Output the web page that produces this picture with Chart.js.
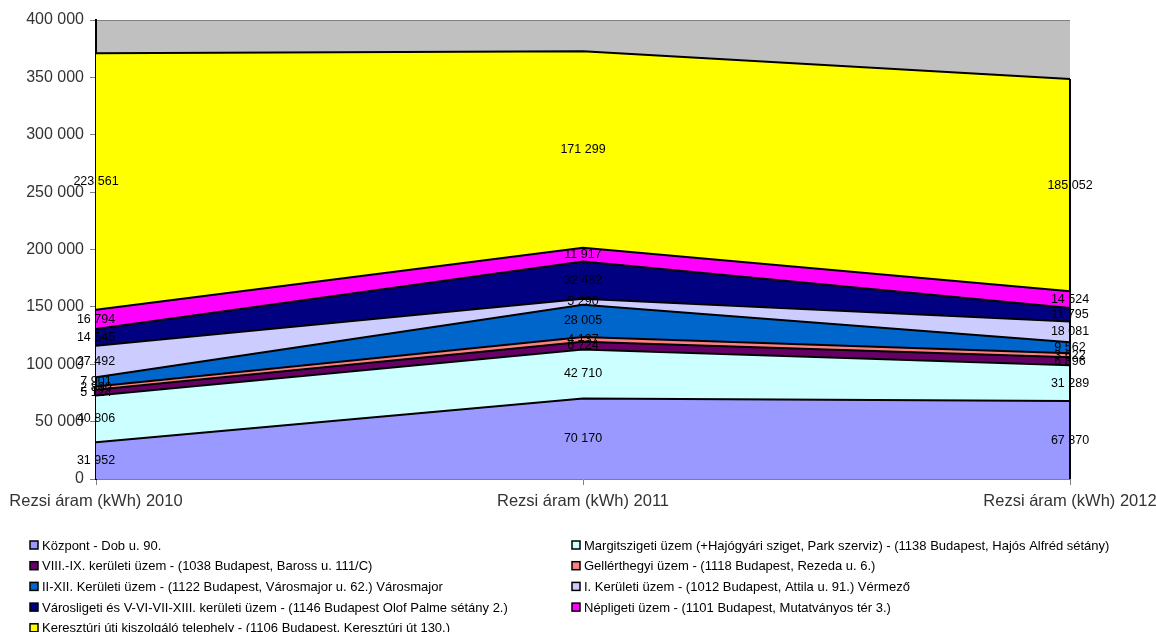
<!DOCTYPE html>
<html>
<head>
<meta charset="utf-8">
<script src="https://cdn.jsdelivr.net/npm/chart.js@4/dist/chart.umd.min.js"></script>
<style>
  body { margin: 0; background: #fff; }
  #wrap { width: 1156px; height: 632px; position: relative; }
</style>
</head>
<body>
<div id="wrap"><canvas id="grafikon" width="1156" height="632"></canvas></div>
<script>
// kategóriák és sorozatok
const kategoriak = ['Rezsi áram (kWh) 2010', 'Rezsi áram (kWh) 2011', 'Rezsi áram (kWh) 2012'];

const nevek = [
    'Központ - Dob u. 90.',
    'Margitszigeti üzem (+Hajógyári sziget, Park szerviz) - (1138 Budapest, Hajós Alfréd sétány)',
    'VIII.-IX. kerületi üzem - (1038 Budapest, Baross u. 111/C)',
    'Gellérthegyi üzem - (1118 Budapest, Rezeda u. 6.)',
    'II-XII. Kerületi üzem - (1122 Budapest, Városmajor u. 62.) Városmajor',
    'I. Kerületi üzem - (1012 Budapest, Attila u. 91.) Vérmező',
    'Városligeti és V-VI-VII-XIII. kerületi üzem - (1146 Budapest Olof Palme sétány 2.)',
    'Népligeti üzem - (1101 Budapest, Mutatványos tér 3.)',
    'Keresztúri úti kiszolgáló telephely - (1106 Budapest, Keresztúri út 130.)'
];

const kozpont     = [31952, 70170, 67870];
const margitsziget = [40806, 42710, 31289];
const nyolcKilenc = [5124, 6724, 6896];
const gellerthegy = [2800, 4137, 3622];
const ketTizenketto = [7901, 28005, 9562];
const elsoKerulet = [27492, 5290, 18081];
const varosliget  = [14545, 32482, 11795];
const nepliget    = [16794, 11917, 14524];
const keresztur   = [223561, 171299, 185052];

const yMin = 0, yMax = 400000, yLepes = 50000;

const szinek = ['#9999FF', '#CCFFFF', '#660066', '#FF8080', '#0066CC', '#CCCCFF', '#000080', '#FF00FF', '#FFFF00'];
const sorok = [kozpont, margitsziget, nyolcKilenc, gellerthegy, ketTizenketto, elsoKerulet, varosliget, nepliget, keresztur];

const betu = '"Liberation Sans", Arial, sans-serif';
const szamFormat = v => String(v).replace(/\B(?=(\d{3})+(?!\d))/g, ' ');

// szürke rajzterület háttér
const hatter = {
    id: 'hatter',
    beforeDraw(chart) {
        const { ctx, chartArea: a } = chart;
        ctx.save();
        ctx.fillStyle = '#C0C0C0';
        ctx.fillRect(a.left, a.top, a.right - a.left, a.bottom - a.top);
        ctx.strokeStyle = '#808080';
        ctx.lineWidth = 1;
        ctx.beginPath();
        ctx.moveTo(a.left, a.top + 0.5);
        ctx.lineTo(a.right, a.top + 0.5);
        ctx.stroke();
        ctx.restore();
    }
};

// értékcímkék a sávok közepén + jobb oldali él
const cimkek = {
    id: 'cimkek',
    afterDatasetsDraw(chart) {
        const ctx = chart.ctx;
        const ys = chart.scales.y, xs = chart.scales.x;
        const n = chart.data.datasets.length;
        ctx.save();
        // jobb oldali függőleges él
        const utolso = chart.getDatasetMeta(n - 1).data;
        const xj = xs.getPixelForValue(kategoriak.length - 1);
        ctx.strokeStyle = '#000';
        ctx.lineWidth = 2;
        ctx.beginPath();
        ctx.moveTo(xj, ys.getPixelForValue(0));
        ctx.lineTo(xj, utolso[utolso.length - 1].y);
        ctx.stroke();

        ctx.font = '12.5px ' + betu;
        ctx.fillStyle = '#000';
        ctx.textAlign = 'center';
        ctx.textBaseline = 'middle';
        chart.data.datasets.forEach((ds, i) => {
            const meta = chart.getDatasetMeta(i);
            const elozo = i > 0 ? chart.getDatasetMeta(i - 1) : null;
            meta.data.forEach((pt, j) => {
                const also = elozo ? elozo.data[j].y : ys.getPixelForValue(0);
                ctx.fillText(szamFormat(ds.data[j]), pt.x, (pt.y + also) / 2);
            });
        });
        ctx.restore();
    }
};

// jelmagyarázat két oszlopban
const jelmagyarazat = {
    id: 'jelmagyarazat',
    afterDraw(chart) {
        const ctx = chart.ctx;
        ctx.save();
        ctx.font = '13px ' + betu;
        ctx.textBaseline = 'middle';
        ctx.textAlign = 'left';
        chart.data.datasets.forEach((ds, i) => {
            const oszlop = i % 2, sor = Math.floor(i / 2);
            const x = oszlop === 0 ? 30 : 572;
            const y = 545 + sor * 20.7;
            ctx.fillStyle = ds.backgroundColor;
            ctx.fillRect(x, y - 4, 8, 8);
            ctx.strokeStyle = '#000';
            ctx.lineWidth = 1.5;
            ctx.strokeRect(x, y - 4, 8, 8);
            ctx.fillStyle = '#000';
            ctx.fillText(ds.label, x + 12, y + 1);
        });
        ctx.restore();
    }
};

const ctx = document.getElementById('grafikon').getContext('2d');
new Chart(ctx, {
    type: 'line',
    data: {
        labels: kategoriak,
        datasets: sorok.map((adat, i) => ({
            label: nevek[i],
            data: adat,
            backgroundColor: szinek[i],
            borderColor: '#000',
            borderWidth: 2,
            pointRadius: 0,
            tension: 0,
            fill: i === 0 ? 'origin' : '-1'
        }))
    },
    options: {
        responsive: false,
        animation: false,
        layout: { padding: { left: 0, right: 86, top: 20, bottom: 113 } },
        plugins: {
            legend: { display: false },
            tooltip: { enabled: false }
        },
        scales: {
            x: {
                offset: false,
                grid: { drawOnChartArea: false, drawTicks: true, tickLength: 6, color: '#808080' },
                border: { color: '#808080', width: 1 },
                ticks: { color: '#333', font: { family: betu, size: 16.5 }, maxRotation: 0, autoSkip: false, padding: 7 },
                afterFit(s) { s.height = 40; s.paddingLeft = 0; s.paddingRight = 0; }
            },
            y: {
                stacked: true,
                min: yMin,
                max: yMax,
                grid: { drawOnChartArea: false, drawTicks: true, tickLength: 6, color: '#808080' },
                border: { color: '#000', width: 2 },
                ticks: {
                    stepSize: yLepes,
                    color: '#333',
                    font: { family: betu, size: 16 },
                    padding: 6,
                    callback: v => szamFormat(v)
                },
                afterFit(s) { s.width = 96; }
            }
        }
    },
    plugins: [hatter, cimkek, jelmagyarazat]
});
</script>
</body>
</html>
